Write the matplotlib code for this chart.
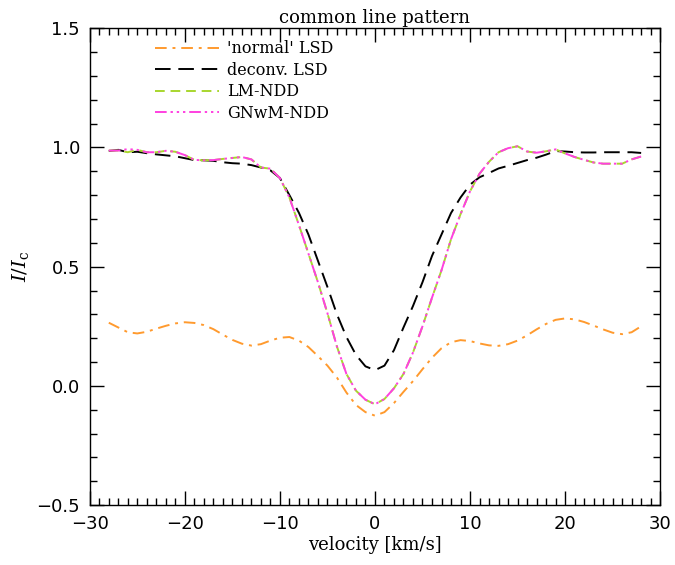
import matplotlib
matplotlib.use("Agg")
import matplotlib.pyplot as plt
from matplotlib.ticker import MultipleLocator

plt.rcParams["mathtext.fontset"] = "dejavuserif"

# velocity grid [km/s]
velocity = list(range(-28, 29))

# 'normal' LSD profile
normal_lsd = [0.265, 0.245, 0.225, 0.220, 0.227, 0.240, 0.252, 0.262, 0.267, 0.264,
              0.255, 0.238, 0.215, 0.193, 0.177, 0.169, 0.175, 0.190, 0.202, 0.205,
              0.190, 0.163, 0.125, 0.085, 0.035, -0.028, -0.080, -0.110, -0.125,
              -0.110, -0.072, -0.025, 0.020, 0.070, 0.118, 0.158, 0.183, 0.192,
              0.188, 0.178, 0.170, 0.168, 0.175, 0.190, 0.212, 0.237, 0.260, 0.277,
              0.283, 0.279, 0.268, 0.253, 0.237, 0.223, 0.217, 0.225, 0.250]

# deconvolved LSD profile
deconv_lsd = [0.985, 0.990, 0.980, 0.982, 0.976, 0.971, 0.967, 0.963, 0.955, 0.947,
              0.946, 0.944, 0.938, 0.934, 0.932, 0.926, 0.916, 0.904, 0.872, 0.800,
              0.726, 0.635, 0.525, 0.415, 0.300, 0.205, 0.130, 0.082, 0.066,
              0.085, 0.150, 0.245, 0.335, 0.435, 0.545, 0.635, 0.725, 0.790,
              0.844, 0.875, 0.893, 0.912, 0.923, 0.935, 0.947, 0.957, 0.970, 0.985,
              0.983, 0.980, 0.979, 0.979, 0.980, 0.980, 0.980, 0.980, 0.977]

# LM-NDD profile
lm_ndd = [0.987, 0.987, 0.980, 0.990, 0.980, 0.980, 0.986, 0.982, 0.968, 0.948,
          0.946, 0.947, 0.952, 0.956, 0.960, 0.950, 0.916, 0.911, 0.872, 0.790,
          0.675, 0.555, 0.435, 0.305, 0.165, 0.050, -0.020, -0.058, -0.077,
          -0.055, -0.010, 0.050, 0.140, 0.250, 0.370, 0.485, 0.615, 0.720,
          0.816, 0.890, 0.940, 0.980, 0.997, 1.005, 0.983, 0.978, 0.984, 0.992,
          0.975, 0.960, 0.948, 0.937, 0.932, 0.932, 0.932, 0.950, 0.962]

# GNwM-NDD profile
gnwm_ndd = [0.987, 0.987, 0.993, 0.990, 0.980, 0.980, 0.986, 0.982, 0.968, 0.948,
            0.946, 0.947, 0.952, 0.956, 0.960, 0.950, 0.916, 0.911, 0.872, 0.790,
            0.675, 0.555, 0.435, 0.305, 0.165, 0.050, -0.020, -0.058, -0.077,
            -0.055, -0.010, 0.050, 0.140, 0.250, 0.370, 0.485, 0.615, 0.720,
            0.816, 0.890, 0.940, 0.980, 0.997, 1.005, 0.983, 0.978, 0.984, 0.992,
            0.975, 0.960, 0.948, 0.937, 0.932, 0.932, 0.932, 0.950, 0.962]

xticks = [-30, -20, -10, 0, 10, 20, 30]
xtick_labels = ["\u221230", "\u221220", "\u221210", "0", "10", "20", "30"]
yticks = [-0.5, 0.0, 0.5, 1.0, 1.5]
ytick_labels = ["\u22120.5", "0.0", "0.5", "1.0", "1.5"]

fig = plt.figure(figsize=(6.75, 5.65), dpi=100)
ax = fig.add_axes([0.133, 0.106, 0.845, 0.844])

ax.plot(velocity, normal_lsd, color="#ff9a2e", lw=1.4,
        dashes=(6, 3, 1.5, 3), label="'normal' LSD")
ax.plot(velocity, deconv_lsd, color="black", lw=1.4,
        dashes=(8, 4), label="deconv. LSD")
ax.plot(velocity, lm_ndd, color="#a8d62e", lw=1.4,
        dashes=(5, 3), label="LM-NDD")
ax.plot(velocity, gnwm_ndd, color="#ff40e0", lw=1.4,
        dashes=(6, 2, 1.2, 2, 1.2, 2, 1.2, 2), label="GNwM-NDD")

ax.set_xlim(-30, 30)
ax.set_ylim(-0.5, 1.5)
ax.set_xticks(xticks)
ax.set_xticklabels(xtick_labels, family="DejaVu Sans")
ax.set_yticks(yticks)
ax.set_yticklabels(ytick_labels, family="DejaVu Sans")
ax.xaxis.set_minor_locator(MultipleLocator(1))
ax.yaxis.set_minor_locator(MultipleLocator(0.1))
ax.tick_params(which="both", direction="in", top=True, right=True, width=1)
ax.tick_params(which="major", length=10, labelsize=13, pad=7)
ax.tick_params(which="minor", length=5)
for s in ax.spines.values():
    s.set_linewidth(1)

ax.set_title("common line pattern", family="DejaVu Serif", fontsize=13, pad=4)
ax.set_xlabel("velocity [km/s]", family="DejaVu Serif", fontsize=13, labelpad=2)
ax.set_ylabel(r"$I/I_{\rm c}$", fontsize=14, labelpad=4)

ax.legend(loc="upper left", bbox_to_anchor=(0.09, 1.005), frameon=False,
          handlelength=4.0, handletextpad=0.5, labelspacing=0.28,
          prop={"family": "DejaVu Serif", "size": 11.5})

fig.savefig("out.png", dpi=100)
